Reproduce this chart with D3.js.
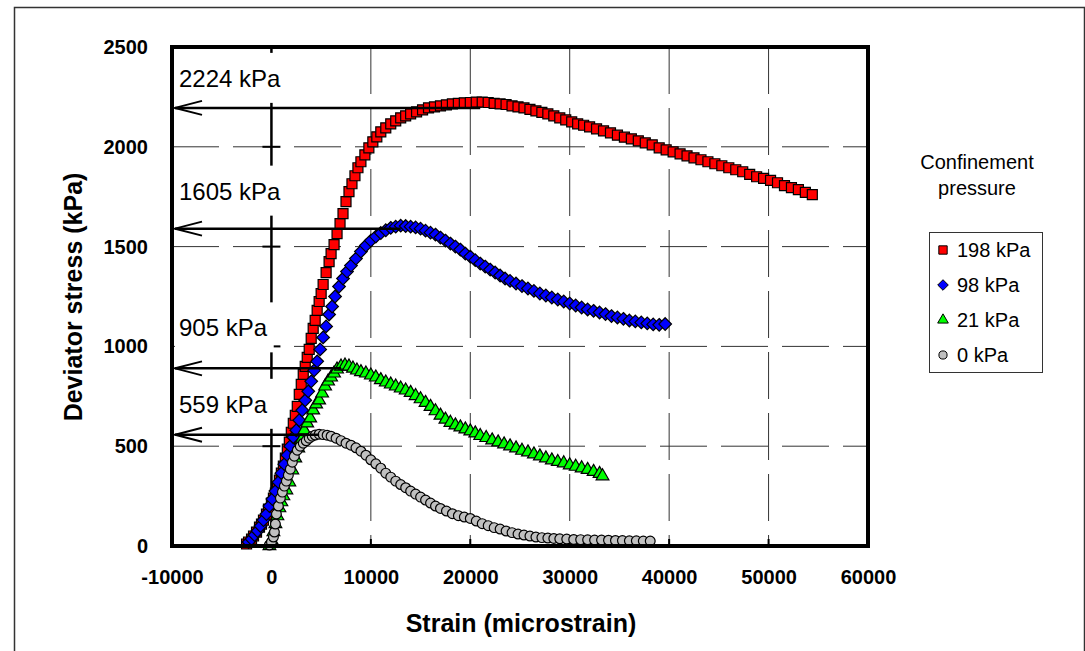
<!DOCTYPE html>
<html>
<head>
<meta charset="utf-8">
<script src="https://cdn.jsdelivr.net/npm/d3@7"></script>
<style>
  body { margin: 0; background: #fff; }
  svg { display: block; }
  text { font-family: Arial, "Liberation Sans", sans-serif; }
</style>
</head>
<body>
<svg id="chart" width="1085" height="651"></svg>
<script>
// ---- data ----
const xTicks = [-10000, 0, 10000, 20000, 30000, 40000, 50000, 60000];
const yTicks = [0, 500, 1000, 1500, 2000, 2500];

const seriesNames = ["198 kPa", "98 kPa", "21 kPa", "0 kPa"];

const strain198 = [-2500,-2300,-2000,-1800,-1500,-1200,-1000,-800,-500,-300,0,200,400,600,800,1000,1200,1400,1600,1800,2000,2200,2400,2600,2800,3000,3200,3400,3600,3800,4000,4200,4400,4600,4800,5000,5200,5500,5800,6000,6300,6600,6900,7200,7500,7800,8100,8400,8700,9000,9400,9800,10200,10600,11000,11500,12000,12500,13000,13500,14000,14600,15200,15800,16400,17000,17600,18200,18800,19400,20000,20600,21200,21800,22400,23000,23600,24200,24800,25400,26000,26600,27200,27800,28400,29000,29600,30200,30800,31400,32000,32700,33400,34100,34800,35500,36200,36900,37600,38300,39000,39700,40400,41100,41800,42500,43200,43900,44600,45300,46000,46700,47400,48100,48800,49500,50200,50900,51600,52300,53000,53700,54400];
const stress198 = [10,20,35,50,70,95,110,130,160,185,215,240,265,295,330,365,400,440,485,520,570,615,655,700,760,810,860,900,945,985,1040,1090,1130,1180,1225,1265,1310,1370,1425,1465,1510,1565,1615,1665,1725,1775,1815,1855,1895,1925,1960,1995,2025,2050,2075,2095,2115,2130,2145,2155,2165,2175,2185,2195,2200,2205,2210,2215,2218,2220,2222,2224,2224,2222,2218,2215,2212,2205,2200,2195,2188,2180,2172,2165,2155,2145,2135,2125,2115,2108,2100,2090,2080,2070,2058,2048,2040,2030,2020,2010,1995,1985,1975,1965,1955,1945,1935,1925,1915,1905,1895,1885,1875,1862,1850,1842,1832,1820,1805,1795,1785,1772,1760];

const strain98 = [-2300,-2000,-1700,-1400,-1100,-800,-500,-200,100,400,700,1000,1300,1600,1900,2200,2500,2800,3100,3400,3700,4000,4300,4600,4900,5200,5500,5800,6100,6400,6800,7200,7600,8000,8500,9000,9500,10000,10500,11000,11500,12000,12500,13000,13500,14000,14500,15000,15500,16000,16500,17000,17500,18000,18500,19000,19500,20000,20500,21000,21500,22000,22500,23000,23500,24000,24600,25200,25800,26400,27000,27600,28200,28800,29400,30000,30600,31200,31800,32400,33000,33600,34200,34800,35400,36000,36600,37200,37800,38400,39000,39600];
const stress98 = [20,35,55,75,100,130,160,200,235,275,320,365,410,455,500,545,580,630,680,730,775,825,880,925,985,1045,1100,1160,1200,1250,1300,1340,1375,1405,1440,1475,1505,1530,1550,1568,1582,1594,1600,1605,1603,1600,1596,1590,1580,1570,1560,1545,1530,1515,1500,1485,1465,1450,1432,1415,1400,1385,1370,1355,1340,1328,1315,1302,1290,1278,1265,1255,1245,1235,1225,1215,1205,1195,1185,1178,1170,1162,1152,1145,1138,1130,1125,1120,1115,1110,1108,1112];

const strain21 = [-200,0,200,400,600,800,1000,1200,1500,1800,2100,2400,2700,3000,3300,3600,3900,4200,4500,4800,5100,5400,5700,6000,6300,6600,7000,7400,7800,8200,8600,9000,9500,10000,10500,11000,11500,12000,12500,13000,13500,14000,14500,15000,15500,16000,16500,17000,17500,18000,18500,19000,19500,20000,20500,21000,21600,22200,22800,23400,24000,24600,25200,25800,26400,27000,27600,28200,28800,29400,30000,30600,31200,31800,32400,33000,33300];
const stress21 = [0,30,70,110,150,190,220,250,280,320,380,440,490,530,580,615,640,680,710,730,765,800,825,845,865,885,900,905,900,890,880,872,865,855,845,832,820,810,800,790,780,768,752,736,718,698,676,654,634,618,605,595,585,575,565,552,542,530,520,510,500,490,478,470,460,450,440,430,422,415,405,398,390,382,372,362,350];

const strain0 = [-200,0,200,300,400,500,700,900,1100,1300,1500,1700,1900,2100,2300,2600,2900,3200,3500,3800,4100,4400,4800,5200,5600,6000,6500,7000,7500,8000,8500,9000,9500,10000,10500,11000,11500,12000,12500,13000,13500,14000,14500,15000,15500,16000,16500,17000,17600,18200,18800,19400,20000,20600,21200,21800,22400,23000,23600,24200,24800,25400,26000,26600,27200,27800,28400,29000,29700,30400,31100,31800,32500,33200,33900,34600,35300,36000,36700,37400,38100];
const stress0 = [5,20,45,70,110,160,200,240,270,300,325,355,385,420,450,480,500,515,527,540,550,556,560,558,555,550,540,528,515,505,492,475,455,432,412,390,365,345,325,308,292,275,260,245,230,215,200,188,175,162,152,145,138,125,112,102,92,85,75,67,60,55,50,45,42,40,38,36,35,33,32,31,30,30,29,28,27,26,26,25,25];

// peak annotations
const peakValues = [2224, 1605, 905, 559];
const arrowLevels = [2195, 1590, 890, 557];
const peakStrains = [21000, 13000, 7000, 4800];

// ---- layout ----
const plot = { left: 172, right: 868, top: 47, bottom: 546 };
const labelDy = [-21, -29, -32, -22];
// square diamond (rotated square), like the spreadsheet marker
const symbolSquareDiamond = {
  draw(context, size) {
    const r = Math.sqrt(size / 2);
    context.moveTo(0, -r);
    context.lineTo(r, 0);
    context.lineTo(0, r);
    context.lineTo(-r, 0);
    context.closePath();
  }
};
const styles = [
  { fill: "#ff0000", symbol: d3.symbolSquare, size: 100 },
  { fill: "#0000ff", symbol: symbolSquareDiamond, size: 80 },
  { fill: "#00ff00", symbol: d3.symbolTriangle, size: 70 },
  { fill: "#c0c0c0", symbol: d3.symbolCircle, size: 75 }
];

const series = [
  [strain198, stress198],
  [strain98, stress98],
  [strain21, stress21],
  [strain0, stress0]
].map(([xs, ys], i) => ({ name: seriesNames[i], pts: xs.map((s, j) => ({ s, v: ys[j] })) }));

const svg = d3.select("#chart");

const x = d3.scaleLinear().domain([-10000, 60000]).range([plot.left, plot.right]);
const y = d3.scaleLinear().domain([0, 2500]).range([plot.bottom, plot.top]);

// outer frame
svg.append("rect")
  .attr("x", 14.5).attr("y", 7.5)
  .attr("width", 1070).attr("height", 660)
  .attr("fill", "#fff").attr("stroke", "#333").attr("stroke-width", 1.5);

// gridlines
svg.append("g")
  .selectAll("line")
  .data(yTicks.slice(1, -1))
  .join("line")
  .attr("x1", plot.left).attr("x2", plot.right)
  .attr("y1", d => y(d)).attr("y2", d => y(d))
  .attr("stroke", "#333").attr("stroke-width", 1)
  .attr("stroke-dasharray", "47,14");

svg.append("g")
  .selectAll("line")
  .data(xTicks.filter(d => d > 0 && d < 60000))
  .join("line")
  .attr("x1", d => x(d)).attr("x2", d => x(d))
  .attr("y1", plot.top).attr("y2", plot.bottom)
  .attr("stroke", "#333").attr("stroke-width", 1)
  .attr("stroke-dasharray", "47,14");

// vertical axis crossing at strain 0, with cross ticks
svg.append("line")
  .attr("x1", x(0)).attr("x2", x(0))
  .attr("y1", plot.top).attr("y2", plot.bottom)
  .attr("stroke", "#000").attr("stroke-width", 2.5);
svg.append("g")
  .selectAll("line")
  .data(yTicks.slice(1, -1))
  .join("line")
  .attr("x1", x(0) - 9).attr("x2", x(0) + 9)
  .attr("y1", d => y(d)).attr("y2", d => y(d))
  .attr("stroke", "#000").attr("stroke-width", 2);

// inside ticks on the bottom axis
svg.append("g")
  .selectAll("line")
  .data(xTicks.filter(d => d > 0 && d < 60000))
  .join("line")
  .attr("x1", d => x(d)).attr("x2", d => x(d))
  .attr("y1", plot.bottom).attr("y2", plot.bottom - 7)
  .attr("stroke", "#000").attr("stroke-width", 2);

// tick labels (plain hyphen for negatives, like the original)
const fmt = d => String(d);
const yAxis = svg.append("g")
  .attr("transform", `translate(${plot.left},0)`)
  .call(d3.axisLeft(y).tickValues(yTicks).tickSize(0).tickPadding(24).tickFormat(fmt));
yAxis.select(".domain").remove();
yAxis.selectAll("text")
  .attr("font-family", "Arial, 'Liberation Sans', sans-serif")
  .attr("font-size", 20).attr("font-weight", "bold").attr("fill", "#000");

const xAxis = svg.append("g")
  .attr("transform", `translate(0,${plot.bottom})`)
  .call(d3.axisBottom(x).tickValues(xTicks).tickSize(0).tickPadding(24).tickFormat(fmt));
xAxis.select(".domain").remove();
xAxis.selectAll("text")
  .attr("font-family", "Arial, 'Liberation Sans', sans-serif")
  .attr("font-size", 20).attr("font-weight", "bold").attr("fill", "#000");

// axis titles
svg.append("text")
  .attr("x", 521).attr("y", 632)
  .attr("text-anchor", "middle")
  .attr("font-size", 25).attr("font-weight", "bold")
  .text("Strain (microstrain)");

svg.append("text")
  .attr("transform", "translate(82,297) rotate(-90)")
  .attr("text-anchor", "middle")
  .attr("font-size", 25).attr("font-weight", "bold")
  .text("Deviator stress (kPa)");

// peak labels with white boxes (they hide the axis line behind them)
const notes = svg.append("g");
peakValues.forEach((v, i) => {
  const base = y(arrowLevels[i]) + labelDy[i];
  const box = notes.append("rect").attr("fill", "#fff");
  const t = notes.append("text")
    .attr("x", 179).attr("y", base)
    .attr("font-size", 24)
    .text(`${v} kPa`);
  const bb = t.node().getBBox();
  box.attr("x", plot.left + 3).attr("y", base - 34)
    .attr("width", bb.x + bb.width + 6 - plot.left - 3).attr("height", 50);
});

// series markers (first series drawn first, last on top)
series.forEach((sr, i) => {
  const st = styles[i];
  svg.append("g")
    .selectAll("path")
    .data(sr.pts)
    .join("path")
    .attr("transform", d => `translate(${x(d.s)},${y(d.v)})`)
    .attr("d", d3.symbol(st.symbol, st.size))
    .attr("fill", st.fill)
    .attr("stroke", "#000")
    .attr("stroke-width", 1.2);
});

// arrows pointing to the y axis
const arrows = svg.append("g").attr("stroke", "#000").attr("fill", "none");
arrowLevels.forEach((lv, i) => {
  const yy = y(lv);
  const tip = plot.left + 3;
  arrows.append("line")
    .attr("x1", tip).attr("x2", x(peakStrains[i]))
    .attr("y1", yy).attr("y2", yy)
    .attr("stroke-width", 2.5);
  arrows.append("path")
    .attr("d", `M${tip + 27},${yy - 7}L${tip},${yy}L${tip + 27},${yy + 7}`)
    .attr("stroke-width", 2);
});

// plot area border
svg.append("rect")
  .attr("x", plot.left).attr("y", plot.top)
  .attr("width", plot.right - plot.left).attr("height", plot.bottom - plot.top)
  .attr("fill", "none").attr("stroke", "#000").attr("stroke-width", 4);

// legend
svg.append("text")
  .attr("x", 977).attr("y", 169)
  .attr("text-anchor", "middle").attr("font-size", 20)
  .text("Confinement");
svg.append("text")
  .attr("x", 977).attr("y", 195)
  .attr("text-anchor", "middle").attr("font-size", 20)
  .text("pressure");

svg.append("rect")
  .attr("x", 929.5).attr("y", 232.5)
  .attr("width", 113).attr("height", 140)
  .attr("fill", "#fff").attr("stroke", "#333").attr("stroke-width", 1);

const legendRows = svg.append("g")
  .selectAll("g")
  .data(series)
  .join("g")
  .attr("transform", (d, i) => `translate(943,${250 + i * 35})`);
legendRows.append("path")
  .attr("d", (d, i) => d3.symbol(styles[i].symbol, styles[i].size * 0.7)())
  .attr("fill", (d, i) => styles[i].fill)
  .attr("stroke", "#000").attr("stroke-width", 1);
legendRows.append("text")
  .attr("x", 14).attr("y", 7)
  .attr("font-size", 20)
  .text(d => d.name);
</script>
</body>
</html>
